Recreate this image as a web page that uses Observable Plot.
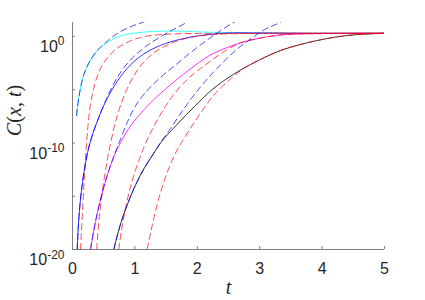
<!DOCTYPE html>
<html><head><meta charset="utf-8">
<script src="https://cdn.jsdelivr.net/npm/d3@7"></script>
<script src="https://cdn.jsdelivr.net/npm/@observablehq/plot@0.6"></script>
<style>body{margin:0;background:#fff;} svg{display:block;}</style>
</head><body><div id="chart"></div>
<script>
// x ticks and y tick exponents (log10 C)
const xTicks = [0, 1, 2, 3, 4, 5];
const yTickExps = [-20, -15, -10, -5, 0];
const yLabelExps = [-20, -10, 0];

// [t, log10 C]
const cyanSolid = [[0.064,-7.43],[0.101,-5.73],[0.128,-4.89],[0.155,-4.14],[0.236,-2.82],[0.341,-1.75],[0.449,-1.07],[0.556,-0.58],[0.716,-0.07],[0.929,0.26],[1.143,0.40],[1.41,0.49],[1.651,0.50],[1.971,0.43],[2.372,0.36],[2.853,0.31],[3.494,0.29],[5,0.29]];
const blueDash1 = [[0.064,-7.43],[0.101,-5.73],[0.128,-4.89],[0.155,-4.14],[0.236,-2.82],[0.341,-1.75],[0.449,-1.0],[0.556,-0.44],[0.662,0.05],[0.769,0.45],[0.902,0.83],[1.037,1.14],[1.117,1.29],[1.154,1.37]];
const redDash1 = [[0.128,-20],[0.144,-18.21],[0.160,-16.44],[0.176,-14.74],[0.192,-13.05],[0.208,-11.46],[0.224,-10.14],[0.240,-8.92],[0.261,-7.60],[0.288,-6.39],[0.321,-5.37],[0.369,-4.24],[0.449,-3.02],[0.556,-2.03],[0.662,-1.38],[0.877,-0.56],[1.09,-0.11],[1.357,0.14],[1.731,0.25],[2.212,0.28],[5,0.29]];

const blueSolid = [[0.075,-20],[0.088,-18.40],[0.104,-16.90],[0.128,-15.30],[0.160,-13.71],[0.208,-11.93],[0.261,-10.42],[0.321,-9.21],[0.396,-7.99],[0.476,-6.81],[0.556,-5.84],[0.716,-4.23],[0.929,-2.68],[1.143,-1.65],[1.41,-0.85],[1.731,-0.27],[2.051,0.08],[2.292,0.24],[2.612,0.33],[3.093,0.32],[3.814,0.29],[5,0.29]];
const blueDash2 = [[0.075,-20],[0.088,-18.40],[0.104,-16.90],[0.128,-15.30],[0.160,-13.71],[0.208,-11.93],[0.261,-10.42],[0.321,-9.21],[0.396,-7.99],[0.476,-6.81],[0.556,-5.70],[0.662,-4.43],[0.769,-3.39],[0.929,-2.21],[1.09,-1.33],[1.25,-0.63],[1.41,-0.05],[1.571,0.50],[1.784,1.16],[1.827,1.32]];
const redDash2 = [[0.389,-20],[0.405,-18.60],[0.425,-17.28],[0.449,-15.97],[0.476,-14.66],[0.513,-13.16],[0.556,-11.65],[0.609,-10.07],[0.662,-8.65],[0.769,-6.49],[0.877,-4.90],[1.037,-3.21],[1.25,-1.80],[1.518,-0.82],[1.838,-0.16],[2.212,0.14],[2.692,0.26],[3.333,0.29],[5,0.29]];

const magentaSolid = [[0.288,-20],[0.341,-18.22],[0.396,-16.63],[0.476,-14.70],[0.556,-13.06],[0.662,-11.28],[0.769,-9.97],[0.902,-8.65],[1.09,-7.24],[1.303,-5.93],[1.463,-5.08],[1.651,-4.15],[1.811,-3.40],[1.971,-2.69],[2.184,-1.84],[2.452,-1.10],[2.72,-0.56],[2.986,-0.19],[3.253,0.08],[3.654,0.23],[4.135,0.27],[5,0.29]];
const blueDash3 = [[0.288,-20],[0.341,-18.22],[0.396,-16.63],[0.476,-14.70],[0.556,-13.06],[0.662,-11.28],[0.769,-9.64],[0.877,-8.09],[0.982,-6.81],[1.117,-5.64],[1.25,-4.75],[1.41,-3.86],[1.651,-2.68],[1.811,-1.91],[1.971,-1.16],[2.159,-0.34],[2.345,0.43],[2.564,1.24],[2.596,1.35]];
const redDash3 = [[0.742,-20],[0.769,-18.79],[0.801,-17.66],[0.849,-16.16],[0.902,-14.75],[0.982,-13.06],[1.063,-11.65],[1.143,-10.43],[1.303,-8.46],[1.463,-6.81],[1.623,-5.46],[1.838,-4.05],[2.051,-3.02],[2.244,-2.18],[2.452,-1.33],[2.72,-0.56],[2.986,-0.19],[3.253,0.08],[3.654,0.23],[4.135,0.27],[5,0.29]];

const blackSolid = [[0.662,-20],[0.716,-18.73],[0.796,-17.13],[0.877,-15.82],[0.957,-14.65],[1.037,-13.62],[1.143,-12.44],[1.277,-11.19],[1.41,-10.01],[1.651,-8.42],[1.811,-7.43],[1.971,-6.49],[2.184,-5.27],[2.452,-4.05],[2.72,-3.07],[2.986,-2.24],[3.333,-1.33],[3.601,-0.84],[3.867,-0.46],[4.135,-0.15],[4.401,0.08],[4.668,0.21],[5,0.28]];
const blueDash4 = [[0.662,-20],[0.716,-18.73],[0.796,-17.13],[0.877,-15.82],[0.957,-14.65],[1.037,-13.62],[1.143,-12.44],[1.277,-11.19],[1.41,-9.99],[1.543,-8.87],[1.678,-7.71],[1.864,-6.15],[2.051,-4.74],[2.239,-3.49],[2.425,-2.36],[2.612,-1.33],[2.772,-0.58],[2.933,0.08],[3.098,0.70],[3.312,1.27],[3.349,1.39]];
const redDash4 = [[1.196,-20],[1.277,-17.75],[1.357,-15.78],[1.463,-13.68],[1.571,-11.98],[1.651,-10.95],[1.811,-9.36],[1.971,-7.90],[2.131,-6.54],[2.244,-5.65],[2.372,-4.85],[2.532,-4.01],[2.72,-3.10],[2.986,-2.24],[3.333,-1.33],[3.601,-0.84],[3.867,-0.46],[4.135,-0.15],[4.401,0.08],[4.668,0.21],[5,0.28]];

const solids = [[cyanSolid,"#00ffff"],[blueSolid,"#0000ff"],[magentaSolid,"#ff00ff"],[blackSolid,"#000000"]];
const redDashes = [redDash1, redDash2, redDash3, redDash4];
const blueDashes = [blueDash1, blueDash2, blueDash3, blueDash4];

const X = d => d[0], Y = d => Math.pow(10, d[1]);
const common = {x: X, y: Y, curve: "monotone-x", clip: true};

const marks = [];
for (const [pts, col] of solids) marks.push(Plot.line(pts, {...common, stroke: col, strokeWidth: 0.8}));
for (const pts of redDashes) marks.push(Plot.line(pts, {...common, stroke: "#ff0000", strokeWidth: 0.7, strokeDasharray: "6,4"}));
for (const pts of blueDashes) marks.push(Plot.line(pts, {...common, stroke: "#0000ff", strokeWidth: 0.7, strokeDasharray: "6,4"}));

const svg = Plot.plot({
  width: 425, height: 300,
  marginLeft: 72, marginRight: 41, marginTop: 22, marginBottom: 51,
  style: {fontFamily: "'Liberation Sans', Arial, sans-serif", fontSize: "16px", color: "#262626", background: "#ffffff"},
  x: {domain: [0, 5]},
  y: {type: "log", domain: [1e-20, 20]},
  marks: [
    ...marks,
    Plot.ruleX([0], {stroke: "#808080", strokeWidth: 1}),
    Plot.ruleY([1e-20], {stroke: "#808080", strokeWidth: 1}),
    Plot.axisX(xTicks, {tickSize: -3, tickPadding: 16, label: null, stroke: "#808080", fontSize: 16}),
    Plot.axisY(yTickExps.map(e => Math.pow(10, e)), {tickSize: -3, tickPadding: 11, label: null, stroke: "#808080", fontSize: 16,
      tickFormat: v => { const e = Math.round(Math.log10(v)); return yLabelExps.includes(e) ? "10^" + e : ""; }}),
    Plot.text(["t"], {frameAnchor: "bottom", dy: 44, lineAnchor: "bottom", text: d => d, fontSize: 20, fontFamily: "'Liberation Serif', serif", fontStyle: "italic", fill: "#262626"}),
    Plot.text(["C(x, t)"], {frameAnchor: "left", dx: -58, rotate: -90, text: d => d, fontSize: 20, fontFamily: "'Liberation Serif', serif", fill: "#262626"})
  ]
});
document.getElementById("chart").appendChild(svg);

// superscript exponents on y tick labels
d3.select(svg).selectAll("g[aria-label='y-axis tick label'] text").each(function () {
  const s = this.textContent;
  if (!s || s.indexOf("^") < 0) return;
  const exp = s.split("^")[1];
  const t = d3.select(this);
  t.text(null).attr("dy", "0.66em");
  t.append("tspan").text("10");
  t.append("tspan").attr("dy", "-0.55em").attr("font-size", "12px").text(exp);
});
// y label: italic variables, upright punctuation
d3.select(svg).selectAll("text").each(function () {
  if (this.textContent !== "C(x, t)") return;
  const t = d3.select(this);
  t.text(null);
  [["C", true], ["(", false], ["x", true], [", ", false], ["t", true], [")", false]].forEach(([s, it]) => {
    t.append("tspan").attr("font-style", it ? "italic" : "normal").text(s);
  });
});
</script>
</body></html>
